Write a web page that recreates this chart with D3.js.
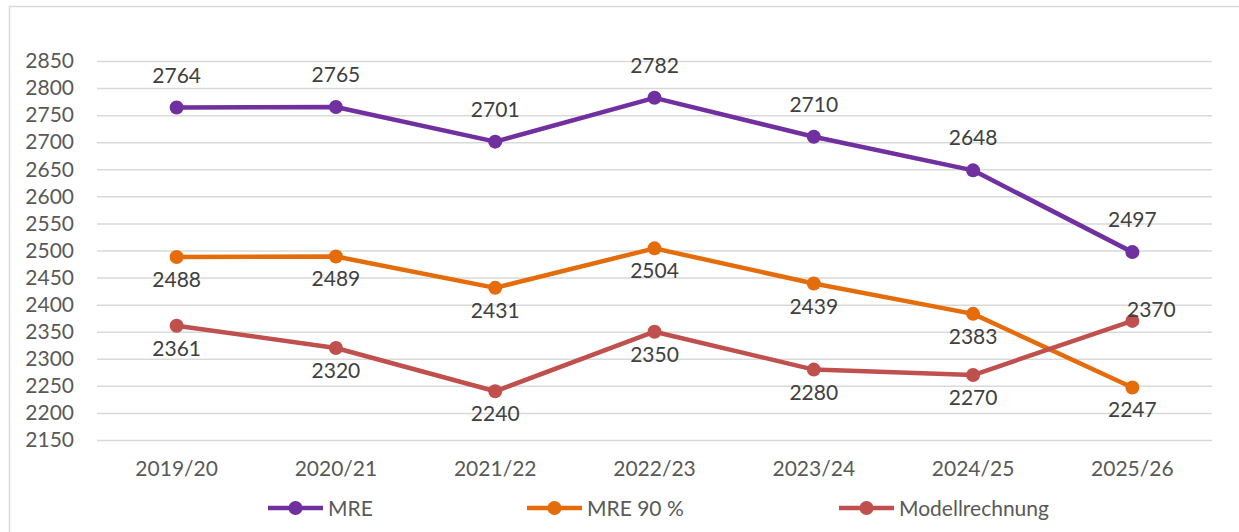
<!DOCTYPE html>
<html>
<head>
<meta charset="utf-8">
<script src="https://cdn.jsdelivr.net/npm/d3@7"></script>
<style>
  body { margin: 0; background: #fff; }
  svg { display: block; font-family: Lato, "Open Sans", sans-serif; }
</style>
</head>
<body>
<div id="chart"></div>
<script>
// chart data
const years = ["2019/20", "2020/21", "2021/22", "2022/23", "2023/24", "2024/25", "2025/26"];
const mre = [2764, 2765, 2701, 2782, 2710, 2648, 2497];
const mre90 = [2488, 2489, 2431, 2504, 2439, 2383, 2247];
const modell = [2361, 2320, 2240, 2350, 2280, 2270, 2370];
const seriesNames = ["MRE", "MRE 90 %", "Modellrechnung"];
const yTicks = [2150, 2200, 2250, 2300, 2350, 2400, 2450, 2500, 2550, 2600, 2650, 2700, 2750, 2800, 2850];
// where each data label sits relative to its point
const mreLabelPos = ["above", "above", "above", "above", "above", "above", "above"];
const mre90LabelPos = ["below", "below", "below", "below", "below", "below", "below"];
const modellLabelPos = ["below", "below", "below", "below", "below", "below", "right"];

const width = 1239, height = 532;
const margin = { left: 97, right: 27, top: 61, bottom: 92 };

const svg = d3.select("#chart").append("svg")
  .attr("width", width)
  .attr("height", height);

// chart area border
svg.append("rect")
  .attr("x", 9.5).attr("y", 6.5)
  .attr("width", width + 10).attr("height", height + 10)
  .attr("fill", "#fff")
  .attr("stroke", "#d9d9d9")
  .attr("stroke-width", 1.5);

const x = d3.scaleBand()
  .domain(years)
  .range([margin.left, width - margin.right]);

const y = d3.scaleLinear()
  .domain([2150, 2850])
  .range([height - margin.bottom, margin.top]);

// gridlines + y labels
const yAxis = svg.append("g")
  .attr("transform", `translate(${margin.left},0)`)
  .call(d3.axisLeft(y)
    .tickValues(yTicks)
    .tickFormat(d3.format("d"))
    .tickSize(-(width - margin.left - margin.right))
    .tickPadding(23));
yAxis.select(".domain").remove();
yAxis.selectAll(".tick line").attr("stroke", "#d9d9d9").attr("stroke-width", 1.5);
yAxis.selectAll(".tick text")
  .attr("fill", "#595959")
  .attr("font-size", "21px")
  .attr("font-family", "Lato, 'Open Sans', sans-serif");

// x labels
const xAxis = svg.append("g")
  .attr("transform", `translate(0,${height - margin.bottom})`)
  .call(d3.axisBottom(x).tickSize(0).tickPadding(21));
xAxis.select(".domain").remove();
xAxis.selectAll(".tick text")
  .attr("fill", "#595959")
  .attr("font-size", "21px")
  .attr("font-family", "Lato, 'Open Sans', sans-serif");

const series = [
  { name: seriesNames[0], values: mre, pos: mreLabelPos, color: "#7030a0" },
  { name: seriesNames[1], values: mre90, pos: mre90LabelPos, color: "#e46c0a" },
  { name: seriesNames[2], values: modell, pos: modellLabelPos, color: "#c0504d" }
];

const cx = (i) => x(years[i]) + x.bandwidth() / 2;

const line = d3.line()
  .x((d, i) => cx(i))
  .y((d) => y(d));

series.forEach((s) => {
  svg.append("path")
    .datum(s.values)
    .attr("fill", "none")
    .attr("stroke", s.color)
    .attr("stroke-width", 4.5)
    .attr("stroke-linejoin", "round")
    .attr("d", line);

  svg.selectAll(null)
    .data(s.values)
    .enter().append("circle")
    .attr("cx", (d, i) => cx(i))
    .attr("cy", (d) => y(d))
    .attr("r", 7)
    .attr("fill", s.color);

  // data labels
  svg.selectAll(null)
    .data(s.values)
    .enter().append("text")
    .attr("x", (d, i) => s.pos[i] === "right" ? cx(i) + 19 : cx(i))
    .attr("y", (d, i) => {
      const p = s.pos[i];
      if (p === "above") return y(d) - 25;
      if (p === "below") return y(d) + 30;
      return y(d) - 4;
    })
    .attr("text-anchor", "middle")
    .attr("fill", "#404040")
    .attr("font-size", "21px")
    .text((d) => d);
});

// legend
const legendX = [268, 527, 839];
const legend = svg.append("g");
series.forEach((s, i) => {
  const g = legend.append("g").attr("transform", `translate(${legendX[i]},508)`);
  g.append("line")
    .attr("x1", 0).attr("x2", 55)
    .attr("stroke", s.color)
    .attr("stroke-width", 4.5);
  g.append("circle")
    .attr("cx", 27.5).attr("r", 7)
    .attr("fill", s.color);
  g.append("text")
    .attr("x", 60)
    .attr("dy", "0.36em")
    .attr("fill", "#595959")
    .attr("font-size", "21px")
    .text(s.name);
});
</script>
</body>
</html>
